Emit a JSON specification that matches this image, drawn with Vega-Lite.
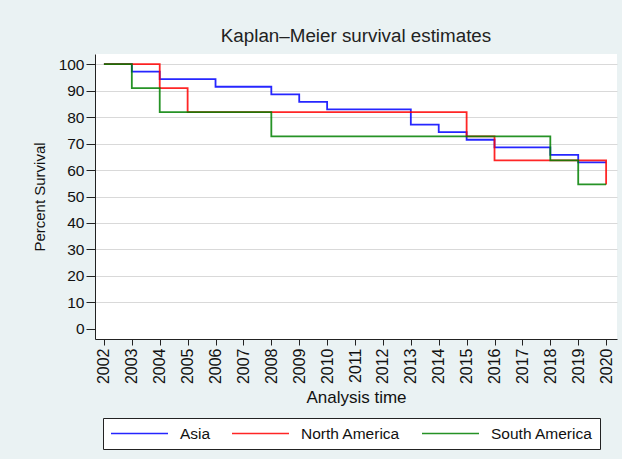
{
  "$schema": "https://vega.github.io/schema/vega-lite/v6.json",
  "width": 522,
  "height": 285,
  "autosize": "none",
  "padding": {"left": 95, "top": 54, "right": 5, "bottom": 120},
  "background": "#EAF2F3",
  "config": {
    "font": "Liberation Sans",
    "view": {"fill": "white", "stroke": null}
  },
  "title": {
    "text": "Kaplan–Meier survival estimates",
    "fontSize": 18.8,
    "fontWeight": "normal",
    "color": "#222",
    "offset": 8,
    "anchor": "middle"
  },
  "data": {
    "values": [
      {"region": "Asia", "year": 2002, "survival": 100},
      {"region": "Asia", "year": 2003, "survival": 97.14},
      {"region": "Asia", "year": 2004, "survival": 94.29},
      {"region": "Asia", "year": 2006, "survival": 91.43},
      {"region": "Asia", "year": 2008, "survival": 88.57},
      {"region": "Asia", "year": 2009, "survival": 85.71},
      {"region": "Asia", "year": 2010, "survival": 82.86},
      {"region": "Asia", "year": 2013, "survival": 77.14},
      {"region": "Asia", "year": 2014, "survival": 74.29},
      {"region": "Asia", "year": 2015, "survival": 71.43},
      {"region": "Asia", "year": 2016, "survival": 68.57},
      {"region": "Asia", "year": 2018, "survival": 65.71},
      {"region": "Asia", "year": 2019, "survival": 62.86},
      {"region": "Asia", "year": 2020, "survival": 62.86},
      {"region": "North America", "year": 2002, "survival": 100},
      {"region": "North America", "year": 2004, "survival": 90.91},
      {"region": "North America", "year": 2005, "survival": 81.82},
      {"region": "North America", "year": 2015, "survival": 72.73},
      {"region": "North America", "year": 2016, "survival": 63.64},
      {"region": "North America", "year": 2020, "survival": 54.55},
      {"region": "South America", "year": 2002, "survival": 100},
      {"region": "South America", "year": 2003, "survival": 90.91},
      {"region": "South America", "year": 2004, "survival": 81.82},
      {"region": "South America", "year": 2008, "survival": 72.73},
      {"region": "South America", "year": 2018, "survival": 63.64},
      {"region": "South America", "year": 2019, "survival": 54.55},
      {"region": "South America", "year": 2020, "survival": 54.55}
    ]
  },
  "mark": {"type": "line", "interpolate": "step-after", "strokeWidth": 1.8, "opacity": 0.85},
  "encoding": {
    "x": {
      "field": "year",
      "type": "quantitative",
      "scale": {"domain": [2001.68, 2020.39], "nice": false, "zero": false},
      "axis": {
        "values": [2002,2003,2004,2005,2006,2007,2008,2009,2010,2011,2012,2013,2014,2015,2016,2017,2018,2019,2020],
        "format": "d",
        "labelAngle": -90,
        "labelFontSize": 16,
        "labelColor": "#111",
        "labelPadding": 3,
        "tickSize": 6,
        "tickColor": "#222",
        "domainColor": "#222",
        "grid": false,
        "title": "Analysis time",
        "titleFontSize": 17,
        "titleFontWeight": "normal",
        "titleColor": "#111",
        "titlePadding": 6
      }
    },
    "y": {
      "field": "survival",
      "type": "quantitative",
      "scale": {"domain": [-3.8, 103.8], "nice": false, "zero": false},
      "axis": {
        "values": [0,10,20,30,40,50,60,70,80,90,100],
        "labelFontSize": 15.5,
        "labelColor": "#111",
        "labelPadding": 2,
        "tickSize": 9,
        "tickColor": "#222",
        "domainColor": "#222",
        "grid": true,
        "gridColor": {"condition": {"test": "datum.value === 0", "value": "transparent"}, "value": "#D9D9D9"},
        "title": "Percent Survival",
        "titleFontSize": 15,
        "titleFontWeight": "normal",
        "titleColor": "#111",
        "titlePadding": 11
      }
    },
    "color": {
      "field": "region",
      "type": "nominal",
      "scale": {"domain": ["Asia", "North America", "South America"], "range": ["#0000FF", "#FF0000", "#008000"]},
      "legend": {
        "title": null,
        "orient": "none",
        "legendX": 8,
        "legendY": 364,
        "direction": "horizontal",
        "symbolType": "M-1,0H6.6",
        "symbolSize": 225,
        "symbolStrokeWidth": 1.5,
        "labelFontSize": 15.5,
        "labelColor": "#111",
        "labelOffset": 53,
        "columnPadding": 18,
        "padding": 7,
        "strokeColor": "#222",
        "fillColor": "white"
      }
    }
  }
}
